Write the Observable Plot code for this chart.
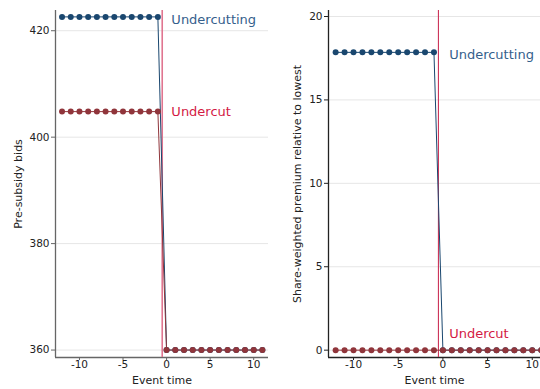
<!DOCTYPE html>
<html>
<head>
<meta charset="utf-8">
<script src="https://cdn.jsdelivr.net/npm/d3@7"></script>
<script src="https://cdn.jsdelivr.net/npm/@observablehq/plot@0.6"></script>
<style>
  html, body { margin: 0; padding: 0; background: #fff; }
  #wrap { display: flex; width: 540px; height: 389px; overflow: hidden; }
  #wrap svg { display: block; }
</style>
</head>
<body>
<div id="wrap"></div>
<script>
// Event time periods around the undercutting event
const eventTime = [-12, -11, -10, -9, -8, -7, -6, -5, -4, -3, -2, -1, 0, 1, 2, 3, 4, 5, 6, 7, 8, 9, 10, 11];

// Pre-subsidy bids
const bidsUndercutting = [422.6, 422.6, 422.6, 422.6, 422.6, 422.6, 422.6, 422.6, 422.6, 422.6, 422.6, 422.6,
                          360, 360, 360, 360, 360, 360, 360, 360, 360, 360, 360, 360];
const bidsUndercut     = [404.8, 404.8, 404.8, 404.8, 404.8, 404.8, 404.8, 404.8, 404.8, 404.8, 404.8, 404.8,
                          360, 360, 360, 360, 360, 360, 360, 360, 360, 360, 360, 360];

// Share-weighted premium relative to lowest
const premUndercutting = [17.85, 17.85, 17.85, 17.85, 17.85, 17.85, 17.85, 17.85, 17.85, 17.85, 17.85, 17.85,
                          0, 0, 0, 0, 0, 0, 0, 0, 0, 0, 0, 0];
const premUndercut     = [0, 0, 0, 0, 0, 0, 0, 0, 0, 0, 0, 0,
                          0, 0, 0, 0, 0, 0, 0, 0, 0, 0, 0, 0];

const xTicks = [-10, -5, 0, 5, 10];
const bidTicks = [360, 380, 400, 420];
const premTicks = [0, 5, 10, 15, 20];
const eventLine = -0.5;

const blue = "#1a476f";
const red = "#90353b";
const blueLabel = "#35608c";
const redLabel = "#d31a44";
const font = "DejaVu Sans, sans-serif";
const plain = d => String(d);

function rows(values) {
  return eventTime.map((t, i) => ({t, v: values[i]}));
}

function panel({width, marginLeft, marginRight, xDomain, yDomain, yTicks, yLabel, labelDx,
                a, b, labels, ruleColor, ruleWidth, axisColor}) {
  const A = rows(a), B = rows(b);
  return Plot.plot({
    width, height: 389,
    marginLeft, marginRight, marginTop: 10, marginBottom: 32,
    style: {fontFamily: font, fontSize: "10.5px", color: "#222", background: "#fff", overflow: "hidden"},
    x: {domain: xDomain},
    y: {domain: yDomain},
    marks: [
      Plot.gridY(yTicks, {stroke: "#e6e6e6", strokeOpacity: 1}),
      Plot.axisX(xTicks, {tickSize: 3, tickPadding: 0, tickFormat: plain, label: null,
                          stroke: axisColor, fill: "#222"}),
      Plot.axisY(yTicks, {tickSize: 4, tickPadding: 2, tickFormat: plain, label: null,
                          stroke: axisColor, fill: "#222"}),
      Plot.ruleX([xDomain[0]], {stroke: axisColor, strokeWidth: 1.3}),
      Plot.ruleY([yDomain[0]], {stroke: axisColor, strokeWidth: 1.3}),
      Plot.ruleX([eventLine], {stroke: ruleColor, strokeWidth: ruleWidth}),
      Plot.line(A, {x: "t", y: "v", stroke: blue, strokeWidth: 1}),
      Plot.dot(A, {x: "t", y: "v", r: 3, fill: blue, stroke: null}),
      Plot.line(B, {x: "t", y: "v", stroke: red, strokeWidth: 1}),
      Plot.dot(B, {x: "t", y: "v", r: 3, fill: red, stroke: null}),
      Plot.text(labels, {x: "x", y: "y", text: "text", fill: "color", textAnchor: "start",
                         fontSize: 13, fontFamily: font}),
      Plot.text([yLabel], {frameAnchor: "left", dx: labelDx, rotate: -90, textAnchor: "middle",
                           lineAnchor: "middle", fontSize: 11, fill: "#222", fontFamily: font}),
      Plot.text(["Event time"], {frameAnchor: "bottom", dy: 23, textAnchor: "middle",
                                 lineAnchor: "middle", fontSize: 11, fill: "#222", fontFamily: font})
    ]
  });
}

const left = panel({
  width: 270, marginLeft: 55, marginRight: 2,
  xDomain: [-12.75, 11.7], yDomain: [358.6, 423.8], yTicks: bidTicks,
  yLabel: "Pre-subsidy bids", labelDx: -37,
  a: bidsUndercutting, b: bidsUndercut,
  labels: [
    {x: 0.55, y: 422.0, text: "Undercutting", color: blueLabel},
    {x: 0.55, y: 404.8, text: "Undercut", color: redLabel}
  ],
  ruleColor: "#e07590", ruleWidth: 1.6, axisColor: "#666"
});

const right = panel({
  width: 270, marginLeft: 58, marginRight: 0,
  xDomain: [-12.8, 10.92], yDomain: [-0.44, 20.36], yTicks: premTicks,
  yLabel: "Share-weighted premium relative to lowest", labelDx: -31,
  a: premUndercutting, b: premUndercut,
  labels: [
    {x: 0.7, y: 17.7, text: "Undercutting", color: blueLabel},
    {x: 0.7, y: 1.0, text: "Undercut", color: redLabel}
  ],
  ruleColor: "#cc3358", ruleWidth: 1.1, axisColor: "#222"
});

document.getElementById("wrap").append(left, right);
</script>
</body>
</html>
